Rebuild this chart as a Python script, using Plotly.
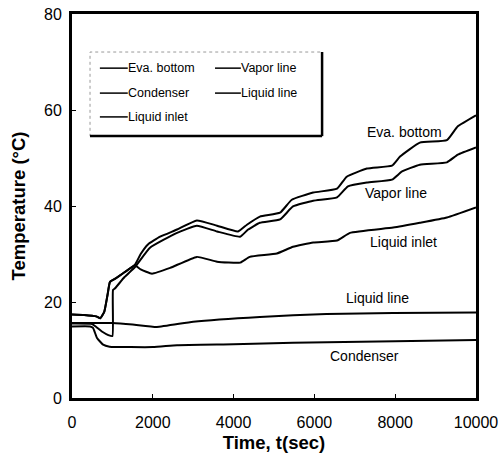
import plotly.graph_objects as go

# ---- data ----
eva_t = [0, 300, 600, 700, 800, 880, 940, 1060, 1300, 1560, 1700, 1880, 2180, 2600, 3090, 3590, 4110, 4330, 4650,
         5150, 5440, 5970, 6560, 6800, 7300, 7920, 8120, 8610, 9280, 9550, 10000]
eva_T = [17.4, 17.3, 17.0, 16.6, 18.0, 21.5, 24.2, 24.8, 26.2, 27.8, 30.0, 32.0, 33.6, 35.1, 37.0, 35.9, 34.7, 36.1, 37.8,
         38.6, 41.3, 42.8, 43.6, 46.1, 47.8, 48.4, 50.3, 53.2, 53.7, 56.6, 58.9]

vap_t = [0, 500, 600, 750, 900, 1000, 1015, 1060, 1300, 1560, 1930, 2600, 3090, 3590, 4160, 4360, 4650, 5150, 5470,
         5970, 6560, 6830, 7300, 7920, 8170, 8610, 9280, 9550, 10000]
vap_T = [15.5, 15.4, 14.8, 13.8, 13.1, 12.9, 22.5, 22.8, 25.2, 27.3, 31.3, 34.4, 35.9, 34.7, 33.6, 35.1, 36.5, 37.2, 39.9,
         41.1, 41.8, 44.1, 44.9, 45.5, 47.2, 48.6, 49.1, 50.7, 52.2]

inl_t = [0, 300, 600, 700, 800, 880, 940, 1060, 1300, 1560, 1700, 1980, 2430, 3090, 3590, 4160, 4400, 5070, 5470,
         5970, 6560, 6880, 7950, 8610, 9280, 10000]
inl_T = [17.4, 17.3, 17.0, 16.6, 18.0, 21.5, 24.2, 24.8, 26.2, 27.6, 26.8, 25.9, 27.1, 29.4, 28.4, 28.2, 29.4, 30.1, 31.5,
         32.4, 32.8, 34.4, 35.5, 36.5, 37.6, 39.7]

liq_t = [0, 1000, 1500, 2100, 3000, 4650, 6300, 7950, 10000]
liq_T = [15.6, 15.6, 15.3, 14.8, 15.9, 16.9, 17.5, 17.7, 17.8]

con_t = [0, 450, 520, 620, 770, 930, 2000, 2600, 4000, 5470, 8000, 10000]
con_T = [14.9, 14.9, 14.6, 12.5, 11.1, 10.7, 10.6, 11.0, 11.2, 11.5, 11.8, 12.1]

x_ticks = [0, 2000, 4000, 6000, 8000, 10000]
x_tick_text = ["0", "2000", "4000", "6000", "8000", "10000"]
y_ticks = [0, 20, 40, 60, 80]

series_names = ["Eva. bottom", "Vapor line", "Condenser", "Liquid line", "Liquid inlet"]
labels = [("Eva. bottom", 8240, 55.5), ("Vapor line", 8020, 42.8), ("Liquid inlet", 8200, 32.4),
          ("Liquid line", 7550, 20.9), ("Condenser", 7250, 8.8)]

FONT = "Liberation Sans, Arial, Helvetica, sans-serif"

fig = go.Figure()
for t, T, name in [(eva_t, eva_T, "Eva. bottom"), (vap_t, vap_T, "Vapor line"), (con_t, con_T, "Condenser"),
                   (liq_t, liq_T, "Liquid line"), (inl_t, inl_T, "Liquid inlet")]:
    fig.add_trace(go.Scatter(x=t, y=T, mode="lines", name=name, showlegend=False,
                             line=dict(color="black", width=2, shape="spline", smoothing=0.4)))

for text, x, y in labels:
    fig.add_annotation(x=x, y=y, text=text, showarrow=False, xanchor="center", yanchor="middle",
                       font=dict(size=14, color="black", family=FONT))

# manual legend (two columns)
lx0, lx1, ly0, ly1 = 0.0446, 0.619, 0.682, 0.901
fig.add_shape(type="rect", xref="paper", yref="paper", x0=lx0, x1=lx1, y0=ly0, y1=ly1,
              line=dict(color="#999999", width=1, dash="dot"), fillcolor="white", layer="above")
fig.add_shape(type="line", xref="paper", yref="paper", x0=lx0, x1=lx1, y0=ly0, y1=ly0,
              line=dict(color="black", width=2.5), layer="above")
fig.add_shape(type="line", xref="paper", yref="paper", x0=lx1, x1=lx1, y0=ly0, y1=ly1,
              line=dict(color="black", width=2.5), layer="above")
cols = [(0.069, 0.138, 0.138), (0.354, 0.418, 0.418)]
rows = [0.859, 0.794, 0.732]
for i, name in enumerate(series_names):
    c = cols[i % 2]
    r = rows[i // 2]
    fig.add_shape(type="line", xref="paper", yref="paper", x0=c[0], x1=c[1], y0=r, y1=r,
                  line=dict(color="black", width=1.5), layer="above")
    fig.add_annotation(xref="paper", yref="paper", x=c[2], y=r, text=name, showarrow=False,
                       xanchor="left", yanchor="middle", xshift=-2,
                       font=dict(size=12.5, color="black", family=FONT))

fig.update_xaxes(range=[0, 10000], tickvals=x_ticks, ticktext=x_tick_text, ticks="inside", ticklen=4,
                 tickcolor="black", ticklabelstandoff=8, automargin=False,
                 showline=True, linecolor="black", linewidth=3, mirror=True, showgrid=False, zeroline=False,
                 tickfont=dict(size=16, color="black", family=FONT),
                 title=dict(text="<b>Time, t(sec)</b>", font=dict(size=18.5, color="black", family=FONT), standoff=6))
fig.update_yaxes(range=[0, 80], tickvals=y_ticks, ticks="inside", ticklen=4, tickcolor="black",
                 ticklabelstandoff=4, automargin=False,
                 showline=True, linecolor="black", linewidth=3, mirror=True, showgrid=False, zeroline=False,
                 tickfont=dict(size=16, color="black", family=FONT),
                 title=dict(text="<b>Temperature (°C)</b>", font=dict(size=18.5, color="black", family=FONT), standoff=14))

fig.update_layout(width=501, height=462, margin=dict(l=72, r=25, t=14, b=64),
                  plot_bgcolor="white", paper_bgcolor="white", font=dict(family=FONT, color="black"))

fig.write_html("out.html")
